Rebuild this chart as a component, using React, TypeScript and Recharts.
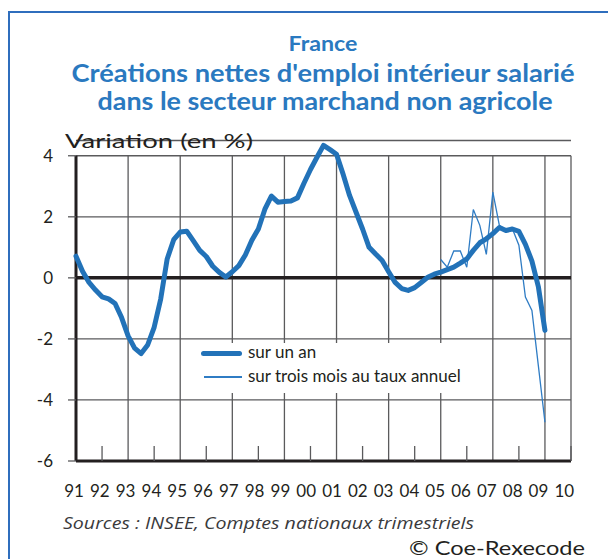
import { LineChart, Line, XAxis, YAxis, CartesianGrid, ReferenceLine } from 'recharts'

// Années affichées sous l'axe
const yearTicks = [1991, 1992, 1993, 1994, 1995, 1996, 1997, 1998, 1999, 2000, 2001, 2002, 2003, 2004, 2005, 2006, 2007, 2008, 2009, 2010]
const yearLabels = ['91', '92', '93', '94', '95', '96', '97', '98', '99', '00', '01', '02', '03', '04', '05', '06', '07', '08', '09', '10']
const gridYears = [1993, 1995, 1997, 1999, 2001, 2003, 2005, 2007, 2009, 2010]
const yTicks = [-6, -4, -2, 0, 2, 4]
const yMin = -6
const yMax = 4

// Glissement annuel, trimestriel de 1991T1 à 2009T1
const surUnAn = [
  0.71, 0.22, -0.15, -0.4, -0.62, -0.69, -0.84, -1.3,
  -1.9, -2.3, -2.48, -2.2, -1.62, -0.7, 0.62, 1.25,
  1.5, 1.53, 1.22, 0.9, 0.7, 0.38, 0.18, 0.03,
  0.2, 0.4, 0.75, 1.23, 1.6, 2.25, 2.68, 2.48,
  2.5, 2.52, 2.62, 3.1, 3.55, 3.95, 4.34, 4.2,
  4.05, 3.4, 2.7, 2.15, 1.6, 1.0, 0.78, 0.57,
  0.2, -0.15, -0.35, -0.41, -0.32, -0.15, 0.02, 0.12,
  0.19, 0.27, 0.35, 0.48, 0.62, 0.9, 1.15, 1.28,
  1.45, 1.65, 1.55, 1.6, 1.52, 1.1, 0.55, -0.3,
  -1.72,
]
// Sur trois mois au taux annuel, à partir de 2005T1
const surTroisMois = [0.6, 0.35, 0.88, 0.88, 0.35, 2.24, 1.72, 0.77, 2.81, 1.72, 1.56, 1.61, 1.07, -0.63, -1.07, -2.9, -4.73]
const startYear = 1991
const troisMoisStart = 56

const data = surUnAn.map((v, i) => ({
  x: startYear + i / 4,
  an: v,
  trois: i >= troisMoisStart ? surTroisMois[i - troisMoisStart] : null,
}))

const BLUE = '#2272b8'
const THIN = '#2f7cc4'
const TITLE = '#2a79c0'
const INK = '#231f20'
const GRID = '#5a5a5c'
const FONT = 'Lato, "Open Sans", sans-serif'

function XTick({ x, y, payload, index }: any) {
  const even = payload.value % 2 === 0
  return (
    <g>
      {even && <line x1={x} x2={x} y1={y} y2={y - 15} stroke={GRID} strokeWidth={1.3} />}
      <text x={x - 2 - index * 0.25} y={y + 36} textAnchor="middle" fontSize={17} fill={INK} fontFamily={FONT}>
        {yearLabels[index]}
      </text>
    </g>
  )
}

export default function App() {
  return (
    <div style={{ position: 'absolute', left: 0, top: 0, width: 608, height: 559, background: '#fff', overflow: 'hidden' }}>
      {/* cadre */}
      <div style={{ position: 'absolute', left: 8, top: 11, width: 620, height: 600, borderTop: '2px solid #2f6ebd', borderLeft: '2px solid #2f6ebd' }} />

      <div style={{ position: 'absolute', left: 0, top: 0 }}>
        {/* domaine un peu au-dessus de 4 pour laisser dépasser le pic de 2000 */}
        <LineChart width={608} height={559} data={data} margin={{ top: 140.5, right: 37, bottom: 68, left: 26 }}>
          <CartesianGrid vertical={false} stroke={GRID} strokeWidth={1.3} />
          {gridYears.map(g => (
            <ReferenceLine key={g} segment={[{ x: g, y: yMin }, { x: g, y: yMax }]} stroke={GRID} strokeWidth={1.3} />
          ))}
          <ReferenceLine y={0} stroke={INK} strokeWidth={3.5} />
          <ReferenceLine segment={[{ x: startYear, y: yMin }, { x: startYear, y: yMax }]} stroke={INK} strokeWidth={3} />
          <XAxis dataKey="x" type="number" domain={[1991, 2010]} ticks={yearTicks} interval={0}
            height={30} tickSize={0} tickMargin={0} tick={<XTick />}
            axisLine={{ stroke: INK, strokeWidth: 3 }} tickLine={false} />
          <YAxis domain={[yMin, 4.5]} ticks={yTicks} width={50} tickSize={8} tickMargin={15}
            axisLine={false} tickLine={{ stroke: GRID, strokeWidth: 1.3 }}
            tick={{ fontSize: 17, fill: INK, fontFamily: FONT }} />
          <Line dataKey="trois" stroke={THIN} strokeWidth={1.3} dot={false} isAnimationActive={false} connectNulls={false} />
          <Line dataKey="an" stroke={BLUE} strokeWidth={5} dot={false} isAnimationActive={false}
            strokeLinejoin="round" strokeLinecap="round" />
        </LineChart>
      </div>

      {/* titres et notes */}
      <svg width={608} height={559} style={{ position: 'absolute', left: 0, top: 0, pointerEvents: 'none' }}>
        <g fontFamily={FONT} fontWeight={700} fill={TITLE}>
          <text x={323} y={51} fontSize={21} textAnchor="middle" textLength={69} lengthAdjust="spacingAndGlyphs">France</text>
          <text x={323} y={82} fontSize={25} textAnchor="middle" textLength={503} lengthAdjust="spacingAndGlyphs">Créations nettes d'emploi intérieur salarié</text>
          <text x={325} y={110} fontSize={25} textAnchor="middle" textLength={455} lengthAdjust="spacingAndGlyphs">dans le secteur marchand non agricole</text>
        </g>
        <g fontFamily={FONT} fill={INK}>
          <text x={65} y={148} fontSize={20} textLength={188} lengthAdjust="spacingAndGlyphs">Variation (en %)</text>
          <text x={63} y={529} fontSize={16.5} fontStyle="italic" fontWeight={400} fill="#3a3a3c" fontFamily='"Open Sans", sans-serif'
            textLength={411} lengthAdjust="spacingAndGlyphs">Sources : INSEE, Comptes nationaux trimestriels</text>
          <text x={409} y={555} fontSize={19} textLength={176} lengthAdjust="spacingAndGlyphs">© Coe-Rexecode</text>
        </g>
      </svg>

      {/* légende */}
      <div style={{ position: 'absolute', left: 186, top: 343, width: 305, height: 50, background: '#fff', fontFamily: FONT, fontSize: 17, color: INK }}>
        <div style={{ position: 'absolute', left: 15, top: 8, width: 41, height: 4.5, borderRadius: 3, background: BLUE }} />
        <div style={{ position: 'absolute', left: 62, top: -1, lineHeight: '20px', whiteSpace: 'nowrap' }}>sur un an</div>
        <div style={{ position: 'absolute', left: 18, top: 33, width: 38, height: 1.5, background: THIN }} />
        <div style={{ position: 'absolute', left: 62, top: 23, lineHeight: '20px', whiteSpace: 'nowrap' }}>sur trois mois au taux annuel</div>
      </div>
    </div>
  )
}
